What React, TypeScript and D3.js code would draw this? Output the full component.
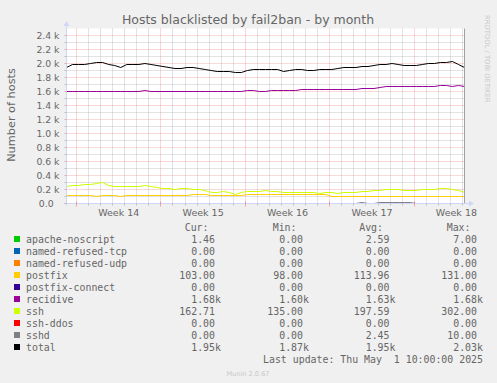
import React from "react";
import * as d3 from "d3";

const W = 497;
const H = 383;
const SPAN_DAYS = 33;
const STEP_DAYS = 0.5;

const seriesNames = [
  "apache-noscript",
  "named-refused-tcp",
  "named-refused-udp",
  "postfix",
  "postfix-connect",
  "recidive",
  "ssh",
  "ssh-ddos",
  "sshd",
  "total",
];
const seriesColors = [
  "#00CC00",
  "#0066B3",
  "#FF8000",
  "#FFCC00",
  "#330099",
  "#990099",
  "#CCFF00",
  "#FF0000",
  "#808080",
  "#000000",
];

const apacheNoscript = [3,3,2,3,4,3,2,2,3,3, 2,3,4,5,3,2,2,3,3,2, 2,3,3,2,3,2,2,3,3,2, 3,4,7,3,2,2,3,3,2,2, 3,2,2,3,2,2,3,3,2,2, 3,3,2,2,3,3,2,2,3,2, 2,3,2,2,2,2,1.46];
const namedRefusedTcp = [0,0,0,0,0,0,0,0,0,0, 0,0,0,0,0,0,0,0,0,0, 0,0,0,0,0,0,0,0,0,0, 0,0,0,0,0,0,0,0,0,0, 0,0,0,0,0,0,0,0,0,0, 0,0,0,0,0,0,0,0,0,0, 0,0,0,0,0,0,0];
const namedRefusedUdp = [0,0,0,0,0,0,0,0,0,0, 0,0,0,0,0,0,0,0,0,0, 0,0,0,0,0,0,0,0,0,0, 0,0,0,0,0,0,0,0,0,0, 0,0,0,0,0,0,0,0,0,0, 0,0,0,0,0,0,0,0,0,0, 0,0,0,0,0,0,0];
const postfix = [110,110,110,110,110,100,110,110,110,100, 110,110,110,110,110,110,110,110,110,110, 110,125,131,125,116,116,116,116,116,116, 128,128,128,128,128,128,128,128,128,128, 128,128,128,128,104,104,104,104,104,104, 98,104,104,104,104,104,104,104,104,104, 104,104,104,104,104,104,103];
const postfixConnect = [0,0,0,0,0,0,0,0,0,0, 0,0,0,0,0,0,0,0,0,0, 0,0,0,0,0,0,0,0,0,0, 0,0,0,0,0,0,0,0,0,0, 0,0,0,0,0,0,0,0,0,0, 0,0,0,0,0,0,0,0,0,0, 0,0,0,0,0,0,0];
const recidive = [1604,1596,1604,1604,1604,1604,1604,1604,1596,1596, 1604,1604,1604,1614,1604,1604,1604,1604,1604,1604, 1604,1604,1604,1604,1604,1604,1604,1604,1604,1604, 1608,1614,1606,1606,1614,1612,1612,1614,1614,1624, 1624,1624,1624,1626,1633,1633,1633,1635,1635,1648, 1648,1650,1652,1667,1667,1667,1667,1667,1667,1667, 1667,1670,1681,1681,1670,1681,1676];
const ssh = [247,262,262,276,276,285,302,260,243,240, 250,240,245,262,245,230,210,210,205,210, 210,200,205,180,160,157,165,157,135,157, 167,170,172,186,176,168,155,157,157,155, 160,157,150,157,160,150,155,160,162,165, 170,186,192,196,200,195,186,186,190,200, 200,205,210,215,205,190,163];
const sshDdos = [0,0,0,0,0,0,0,0,0,0, 0,0,0,0,0,0,0,0,0,0, 0,0,0,0,0,0,0,0,0,0, 0,0,0,0,0,0,0,0,0,0, 0,0,0,0,0,0,0,0,0,0, 0,0,0,0,0,0,0,0,0,0, 0,0,0,0,0,0,0];
const sshd = [0,0,0,0,0,0,0,0,0,0, 0,0,0,0,0,0,0,0,0,0, 0,0,0,0,0,0,0,0,0,0, 0,0,0,0,0,0,0,0,0,0, 0,0,0,0,0,0,0,0,0,10, 0,0,10,10,10,10,10,10,0,0, 0,0,0,0,0,0,0];
const total = [1947,1990,1990,1990,2005,2010,2019,1985,1971,1945, 1985,1980,1985,2005,1990,1975,1960,1945,1930,1930, 1945,1940,1930,1910,1895,1890,1885,1880,1876,1867, 1895,1910,1910,1914,1920,1915,1890,1905,1912,1910, 1905,1900,1908,1915,1920,1935,1938,1945,1950,1955, 1957,1975,1985,1990,1995,1985,1971,1971,1975,1985, 1995,2005,2010,2015,2028,1985,1950];

const seriesData = [
  apacheNoscript,
  namedRefusedTcp,
  namedRefusedUdp,
  postfix,
  postfixConnect,
  recidive,
  ssh,
  sshDdos,
  sshd,
  total,
];

const legendCur = ["1.46", "0.00", "0.00", "103.00", "0.00", "1.68k", "162.71", "0.00", "0.00", "1.95k"];
const legendMin = ["0.00", "0.00", "0.00", "98.00", "0.00", "1.60k", "135.00", "0.00", "0.00", "1.87k"];
const legendAvg = ["2.59", "0.00", "0.00", "113.96", "0.00", "1.63k", "197.59", "0.00", "2.45", "1.95k"];
const legendMax = ["7.00", "0.00", "0.00", "131.00", "0.00", "1.68k", "302.00", "0.00", "10.00", "2.03k"];
const legendHeaders = ["Cur:", "Min:", "Avg:", "Max:"];

const yTickValues = [0, 200, 400, 600, 800, 1000, 1200, 1400, 1600, 1800, 2000, 2200, 2400];
const yTickLabels = ["0.0  ", "0.2 k", "0.4 k", "0.6 k", "0.8 k", "1.0 k", "1.2 k", "1.4 k", "1.6 k", "1.8 k", "2.0 k", "2.2 k", "2.4 k"];
const weekLabels = ["Week 14", "Week 15", "Week 16", "Week 17", "Week 18"];
const weekStarts = [0.83, 7.83, 14.83, 21.83, 28.83];

const TITLE = "Hosts blacklisted by fail2ban - by month";
const Y_TITLE = "Number of hosts";
const LAST_UPDATE = "Last update: Thu May  1 10:00:00 2025";
const VERSION = "Munin 2.0.67";
const WATERMARK = "RRDTOOL / TOBI OETIKER";

const FONT = "'DejaVu Sans', sans-serif";
const MONO = "'DejaVu Sans Mono', monospace";
const TEXT_COLOR = "#666666";
const GRID = "rgba(143,143,143,0.5)";
const MGRID = "rgba(222,79,79,0.45)";
const AXIS = "#CFD6F8";

export default function App() {
  const x = d3.scaleLinear().domain([0, SPAN_DAYS]).range([66.5, 464.5]);
  const y = d3.scaleLinear().domain([0, 2500]).range([203.5, 28.5]);
  const snap = (v: number) => Math.round(v - 0.5) + 0.5;

  const line = d3
    .line<number>()
    .x((_, i) => x(i * STEP_DAYS))
    .y((v) => snap(y(v)));

  const x0 = x(0);
  const x1 = x(SPAN_DAYS);
  const y0 = y(0);
  const yTop = y(2500);

  const hGrid = d3.range(100, 2500, 100);
  const dayLines: number[] = [];
  for (let d = weekStarts[0] - 7; d <= SPAN_DAYS; d += 1) {
    if (d >= 0) dayLines.push(d);
  }

  const colEnds = [215, 303, 389.5, 477];
  const cols = [legendCur, legendMin, legendAvg, legendMax];
  const rowBase = (i: number) => 243 + i * 12;

  const splitVal = (s: string) =>
    s.endsWith("k") ? [s.slice(0, -1), "k"] : [s, ""];

  return (
    <svg
      width={W}
      height={H}
      style={{ position: "absolute", left: 0, top: 0, display: "block" }}
    >
      <rect x={0} y={0} width={W} height={H} fill="#F0F0F0" />
      <rect x={x0} y={yTop} width={x1 - x0} height={y0 - yTop} fill="#FFFFFF" />

      {/* horizontal grid */}
      {hGrid.map((v) => {
        const yy = snap(y(v));
        const major = v % 200 === 0;
        return (
          <line
            key={"h" + v}
            x1={x0}
            x2={x1}
            y1={yy}
            y2={yy}
            stroke={major ? MGRID : GRID}
            strokeDasharray="1,1"
            strokeWidth={1}
          />
        );
      })}
      {/* vertical grid */}
      {dayLines.map((d, i) => {
        const xx = snap(x(d));
        const major = weekStarts.some((w) => Math.abs(w - d) < 1e-6);
        return (
          <line
            key={"v" + i}
            x1={xx}
            x2={xx}
            y1={yTop}
            y2={y0}
            stroke={major ? MGRID : GRID}
            strokeDasharray="1,1"
            strokeWidth={1}
          />
        );
      })}

      {/* series */}
      {seriesData.map((data, i) => (
        <path
          key={seriesNames[i]}
          d={line(data) || ""}
          fill="none"
          stroke={seriesColors[i]}
          strokeWidth={1}
        />
      ))}

      {/* right edge line */}
      <line x1={x1} x2={x1} y1={yTop} y2={y0} stroke="#A0A0A0" strokeWidth={1} />

      {/* axes */}
      <line x1={x0} x2={x0} y1={y0 + 2} y2={24} stroke={AXIS} strokeWidth={1} />
      <line x1={x0 - 2} x2={470} y1={y0} y2={y0} stroke={AXIS} strokeWidth={1} />
      <path d={`M${x0 - 3},26 L${x0 + 3},26 L${x0},21 Z`} fill={AXIS} />
      <path d={`M469,${y0 - 3} L469,${y0 + 3} L474,${y0} Z`} fill={AXIS} />

      {/* y ticks */}
      {hGrid.concat([0]).map((v) => {
        const yy = snap(y(v));
        return (
          <line
            key={"yt" + v}
            x1={x0 - 2}
            x2={x0}
            y1={yy}
            y2={yy}
            stroke={v % 200 === 0 ? MGRID : GRID}
          />
        );
      })}
      {/* x ticks */}
      {dayLines.map((d, i) => {
        const xx = snap(x(d));
        const major = weekStarts.some((w) => Math.abs(w - d) < 1e-6);
        return (
          <line
            key={"xt" + i}
            x1={xx}
            x2={xx}
            y1={major ? y0 - 2 : y0}
            y2={major ? y0 + 3 : y0 + 2}
            stroke={major ? MGRID : GRID}
          />
        );
      })}

      {/* y tick labels */}
      {yTickValues.map((v, i) => (
        <text
          key={"yl" + v}
          x={59.5}
          y={snap(y(v)) + 3.3}
          textAnchor="end"
          fontFamily={FONT}
          fontSize={9.3}
          fill={TEXT_COLOR}
          style={{ whiteSpace: "pre" }}
        >
          {yTickLabels[i]}
        </text>
      ))}

      {/* week labels */}
      {weekLabels.map((w, i) => (
        <text
          key={w}
          x={x(weekStarts[i] + 3.5)}
          y={216}
          textAnchor="middle"
          fontFamily={FONT}
          fontSize={9.5}
          fill={TEXT_COLOR}
        >
          {w}
        </text>
      ))}

      {/* title */}
      <text
        x={248}
        y={24}
        textAnchor="middle"
        fontFamily={FONT}
        fontSize={12.5}
        fill={TEXT_COLOR}
      >
        {TITLE}
      </text>

      {/* y axis title */}
      <text
        transform="translate(15,115) rotate(-90)"
        textAnchor="middle"
        fontFamily={FONT}
        fontSize={11.3}
        fill={TEXT_COLOR}
      >
        {Y_TITLE}
      </text>

      {/* watermark */}
      <text
        transform="translate(485,15) rotate(90)"
        textAnchor="start"
        fontFamily={FONT}
        fontSize={6.8}
        fill="#C8C8C8"
      >
        {WATERMARK}
      </text>

      {/* legend headers */}
      {legendHeaders.map((h, i) => (
        <text
          key={h}
          x={colEnds[i] - 6.5}
          y={231}
          textAnchor="end"
          fontFamily={MONO}
          fontSize={9.9}
          fill={TEXT_COLOR}
        >
          {h}
        </text>
      ))}

      {/* legend rows */}
      {seriesNames.map((name, r) => (
        <g key={"lg" + name}>
          <rect x={14} y={rowBase(r) - 7} width={6} height={6} fill={seriesColors[r]} />
          <text
            x={26}
            y={rowBase(r)}
            fontFamily={MONO}
            fontSize={9.9}
            fill={TEXT_COLOR}
          >
            {name}
          </text>
          {cols.map((col, c) => {
            const [num, suf] = splitVal(col[r]);
            return (
              <g key={"c" + c}>
                <text
                  x={colEnds[c]}
                  y={rowBase(r)}
                  textAnchor="end"
                  fontFamily={MONO}
                  fontSize={9.9}
                  fill={TEXT_COLOR}
                >
                  {num}
                </text>
                {suf && (
                  <text
                    x={colEnds[c]}
                    y={rowBase(r)}
                    fontFamily={MONO}
                    fontSize={9.9}
                    fill={TEXT_COLOR}
                  >
                    {suf}
                  </text>
                )}
              </g>
            );
          })}
        </g>
      ))}

      <text
        x={483}
        y={363}
        textAnchor="end"
        fontFamily={MONO}
        fontSize={9.9}
        fill={TEXT_COLOR}
        style={{ whiteSpace: "pre" }}
      >
        {LAST_UPDATE}
      </text>

      <text
        x={248}
        y={376}
        textAnchor="middle"
        fontFamily={FONT}
        fontSize={6.6}
        fill="#C8C8C8"
      >
        {VERSION}
      </text>
    </svg>
  );
}
